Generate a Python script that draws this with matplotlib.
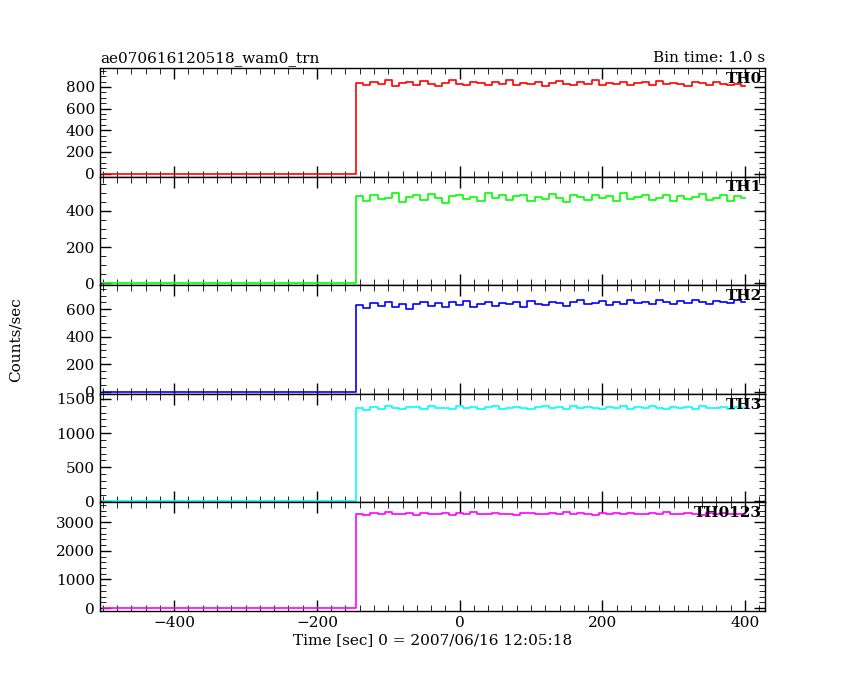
import matplotlib
matplotlib.use("Agg")
import matplotlib.pyplot as plt
import numpy as np

plt.rcParams['font.family'] = ['DejaVu Serif']

onset = -145
t_start = -500
t_end = 400
step = 10
labels = ["TH0", "TH1", "TH2", "TH3", "TH0123"]
colors = ["#ff0000", "#00ff00", "#0000ff", "#00ffff", "#ff00ff"]
th0 = [840,815,850,825,860,810,835,845,820,855,830,805,840,865,825,815,850,835,820,845,830,860,815,840,825,850,810,835,855,830,820,845,825,860,815,840,830,850,820,835,845,815,855,825,840,830,810,850,835,820,845,825,815,830,805]
th1 = [480,455,490,465,470,500,450,475,485,460,495,470,445,480,490,465,475,455,500,470,485,460,480,490,455,475,465,495,470,450,485,475,460,490,470,480,455,500,465,475,485,460,470,490,455,480,465,475,495,460,470,485,455,480,470]
th2 = [630,610,645,625,650,620,640,600,635,655,625,645,615,650,630,660,620,640,655,625,645,635,650,620,660,640,630,655,645,625,650,665,635,645,660,630,650,640,670,645,655,635,665,650,640,660,645,670,650,635,660,655,645,665,650]
th3 = [1360,1340,1380,1355,1390,1365,1345,1375,1385,1350,1400,1360,1370,1345,1390,1365,1380,1355,1375,1395,1350,1370,1385,1360,1345,1380,1390,1365,1375,1350,1395,1360,1380,1370,1345,1385,1365,1390,1355,1375,1360,1400,1370,1350,1385,1365,1380,1355,1390,1370,1360,1380,1345,1375,1365]
th0123 = [3280,3250,3320,3290,3340,3270,3300,3310,3260,3330,3290,3280,3320,3250,3310,3300,3340,3270,3290,3320,3280,3300,3260,3330,3310,3290,3270,3320,3300,3340,3280,3310,3290,3260,3320,3300,3330,3280,3310,3290,3270,3320,3300,3340,3290,3280,3310,3300,3260,3320,3290,3310,3280,3300,3290]
series = [th0, th1, th2, th3, th0123]
ylims = [(-28, 975), (-11, 589), (-15, 775), (-15, 1574), (-100, 3690)]
yticks = [[0,200,400,600,800],[0,200,400],[0,200,400,600],[0,500,1000,1500],[0,1000,2000,3000]]
yminor = [50, 50, 50, 100, 200]

fig = plt.figure(figsize=(8.5, 6.8), dpi=100)
left, right, top, bottom = 100/850, 765/850, 1-68/680, 1-611/680
h = (top-bottom)/5
axes = []
for i in range(5):
    ax = fig.add_axes([left, top-(i+1)*h, right-left, h])
    axes.append(ax)
    vals = series[i]
    t = [t_start, onset] + [onset + step*k for k in range(1, len(vals))] + [t_end]
    v = [0, vals[0]] + vals[1:] + [vals[-1]]
    ax.step(t, v, where='post', color=colors[i], lw=1.2)
    ax.set_xlim(-504, 428)
    ax.set_ylim(*ylims[i])
    ax.set_yticks(yticks[i])
    ax.yaxis.set_minor_locator(matplotlib.ticker.MultipleLocator(yminor[i]))
    ax.xaxis.set_minor_locator(matplotlib.ticker.MultipleLocator(20))
    ax.set_xticks([-400,-200,0,200,400])
    ax.tick_params(which='both', direction='in', top=True, right=True, labelsize=11)
    ax.tick_params(which='major', length=8, width=1)
    ax.tick_params(which='minor', length=4)
    if i < 4:
        ax.tick_params(labelbottom=False)
    ax.text(0.995, 0.9, labels[i], transform=ax.transAxes, ha='right', va='center', fontsize=11, fontweight='bold')
    for s in ax.spines.values():
        s.set_linewidth(1)

axes[0].set_title("ae070616120518_wam0_trn", loc='left', fontsize=11, pad=4)
axes[0].set_title("Bin time: 1.0 s", loc='right', fontsize=11, pad=4)
axes[4].set_xlabel("Time [sec] 0 = 2007/06/16 12:05:18", fontsize=11, labelpad=2)
fig.text(0.018, (top+bottom)/2, "Counts/sec", rotation=90, va='center', ha='center', fontsize=11)
fig.savefig("out.png", dpi=100)
